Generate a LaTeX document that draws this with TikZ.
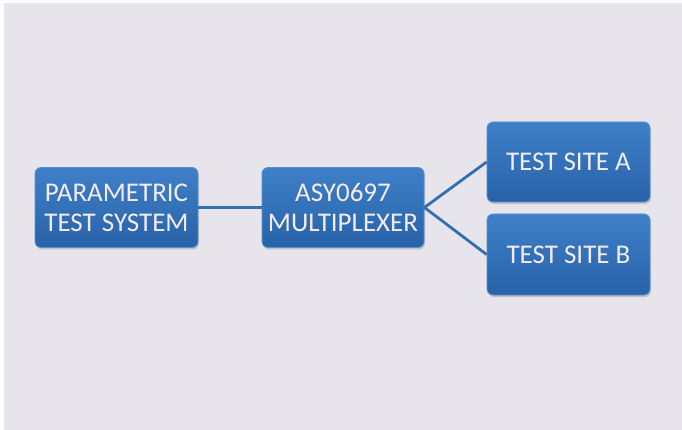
\documentclass[tikz,border=0pt]{standalone}
\usepackage{fontspec}
\setmainfont{Carlito}
\usetikzlibrary{shadows}
\definecolor{bgcol}{RGB}{232,228,236}
\definecolor{boxtop}{RGB}{62,128,200}
\definecolor{boxbot}{RGB}{40,98,168}
\definecolor{boxedge}{RGB}{84,146,210}
\definecolor{linecol}{RGB}{50,110,180}
\definecolor{txtcol}{RGB}{244,236,244}
\tikzset{
  bluebox/.style={rounded corners=6pt, draw=boxedge, line width=0.8pt,
    top color=boxtop, bottom color=boxbot, inner sep=0pt,
    text=txtcol, align=center, font=\fontsize{27}{30}\selectfont,
    drop shadow={opacity=0.35, shadow xshift=1pt, shadow yshift=-2pt}},
  link/.style={draw=linecol, line width=2.8pt}
}
\begin{document}
\begin{tikzpicture}[x=1pt,y=-1pt]
\useasboundingbox (0,0) rectangle (682,430);
\fill[white] (0,0) rectangle (682,430);
\fill[bgcol] (4,3) rectangle (682,430);
\node[bluebox, minimum width=163pt, minimum height=80pt] (pts) at (116.5,207.5) {PARAMETRIC\\TEST SYSTEM};
\node[bluebox, minimum width=162pt, minimum height=80pt] (mux) at (343,207.5) {ASY0697\\MULTIPLEXER};
\node[bluebox, minimum width=163pt, minimum height=80pt] (sa) at (568.5,162) {TEST SITE A};
\node[bluebox, minimum width=163pt, minimum height=81pt] (sb) at (568.5,254.5) {TEST SITE B};
\draw[link] (pts.east) -- (mux.west);
\draw[link] (mux.east) -- (sa.west);
\draw[link] (mux.east) -- (sb.west);
\end{tikzpicture}
\end{document}
